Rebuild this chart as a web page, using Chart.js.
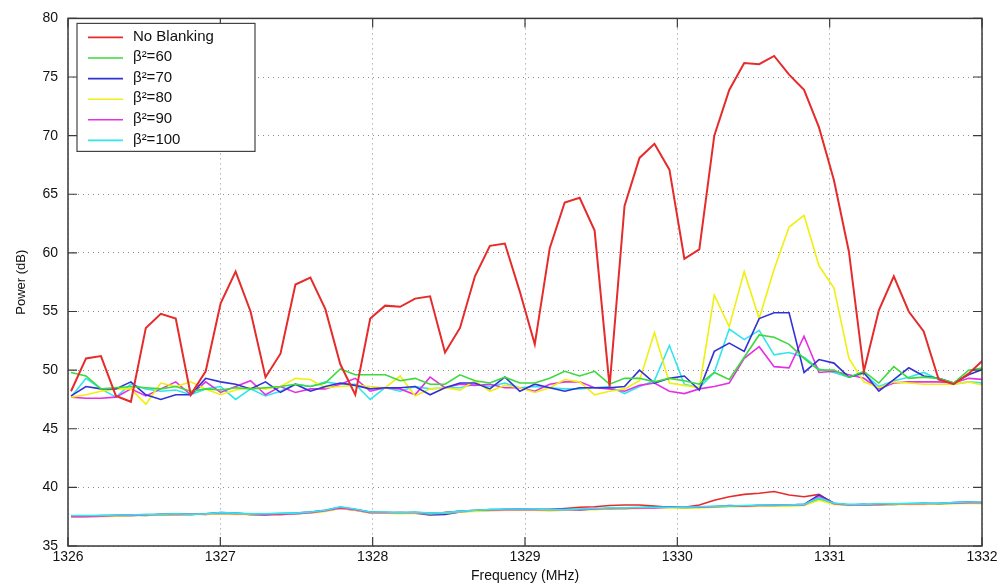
<!DOCTYPE html>
<html>
<head>
<meta charset="utf-8">
<script src="https://cdn.jsdelivr.net/npm/chart.js@4"></script>
<style>
  html, body { margin: 0; padding: 0; background: #fff; }
</style>
</head>
<body>
<canvas id="spectrum" width="1004" height="588"></canvas>
<script>
/* spectrum bins: 62 bins starting just above 1326 MHz */
const freqStart = 1326.02;
const freqStep = 0.0982;

const seriesNames = ['No Blanking', 'β²=60', 'β²=70', 'β²=80', 'β²=90', 'β²=100'];
const seriesColors = ['#e62b2b', '#3cda3c', '#3232d6', '#f0f010', '#e630e6', '#30e6ec'];

const xTicks = [1326, 1327, 1328, 1329, 1330, 1331, 1332];
const yTicks = [35, 40, 45, 50, 55, 60, 65, 70, 75, 80];

/* upper curves (signal band) */
const noBlanking = [48.2, 51.0, 51.2, 47.8, 47.3, 53.6, 54.8, 54.4, 47.9, 49.9,
  55.7, 58.4, 55.0, 49.4, 51.4, 57.3, 57.9, 55.2, 50.5, 47.9,
  54.4, 55.5, 55.4, 56.1, 56.3, 51.5, 53.6, 58.0, 60.6, 60.8,
  56.7, 52.2, 60.4, 64.3, 64.7, 61.9, 48.6, 64.0, 68.1, 69.3,
  67.1, 59.5, 60.3, 70.0, 73.9, 76.2, 76.1, 76.8, 75.2, 73.9,
  70.7, 66.2, 60.1, 49.9, 55.1, 58.0, 55.0, 53.3, 49.2, 48.8,
  49.7, 50.9];
const beta60 = [49.8, 49.5, 48.4, 48.5, 48.6, 48.5, 48.4, 48.6, 48.2, 48.4,
  48.3, 48.5, 48.4, 48.5, 48.6, 48.8, 48.6, 48.9, 50.1, 49.6,
  49.6, 49.6, 49.1, 49.3, 48.8, 48.8, 49.6, 49.1, 48.9, 49.4,
  48.9, 48.9, 49.3, 49.9, 49.5, 49.9, 48.8, 49.3, 49.3, 49.0,
  49.3, 49.1, 48.8, 49.8, 49.2, 51.1, 53.0, 52.8, 52.2, 51.0,
  50.0, 50.0, 49.4, 49.9, 48.9, 50.3, 49.3, 49.4, 49.3, 48.9,
  50.0, 50.2];
const beta70 = [47.8, 48.6, 48.4, 48.4, 49.0, 47.9, 47.5, 47.9, 47.9, 49.3,
  49.0, 48.8, 48.4, 49.0, 48.1, 48.8, 48.2, 48.6, 48.9, 48.7,
  48.4, 48.5, 48.5, 48.6, 47.9, 48.5, 48.9, 48.9, 48.4, 49.4,
  48.2, 48.8, 48.5, 48.2, 48.5, 48.5, 48.5, 48.6, 50.0, 48.9,
  49.3, 49.5, 48.3, 51.6, 52.3, 51.6, 54.4, 54.9, 54.9, 49.8,
  50.9, 50.6, 49.4, 49.8, 48.2, 49.2, 50.2, 49.5, 49.3, 48.9,
  49.6, 50.1];
const beta80 = [47.7, 47.9, 48.2, 48.4, 48.4, 47.1, 48.9, 48.6, 49.0, 48.4,
  47.9, 48.3, 48.5, 48.4, 48.6, 49.3, 49.2, 48.5, 48.6, 48.7,
  48.6, 48.5, 49.5, 47.8, 48.4, 48.5, 48.3, 49.1, 48.2, 48.7,
  48.5, 48.1, 48.5, 49.2, 49.0, 47.9, 48.2, 48.4, 49.1, 53.2,
  48.9, 48.7, 48.5, 56.4, 53.7, 58.4, 54.4, 58.6, 62.2, 63.2,
  58.9, 57.0, 51.0, 49.0, 48.5, 49.0, 48.9, 48.8, 48.8, 48.8,
  49.0, 48.7];
const beta90 = [47.7, 47.6, 47.6, 47.7, 48.4, 47.8, 48.4, 49.0, 47.9, 49.0,
  48.1, 48.6, 49.1, 47.9, 48.6, 48.1, 48.4, 48.4, 48.8, 49.3,
  48.2, 48.5, 48.4, 47.9, 49.4, 48.5, 48.8, 48.7, 48.8, 48.5,
  48.5, 48.2, 48.8, 49.0, 49.0, 48.5, 48.4, 48.2, 48.7, 48.9,
  48.2, 48.0, 48.4, 48.6, 48.9, 51.0, 52.0, 50.3, 50.2, 52.9,
  49.8, 49.9, 49.6, 49.3, 48.4, 48.9, 49.0, 49.0, 49.0, 48.9,
  49.3, 49.2];
const beta100 = [47.7, 49.3, 48.4, 47.7, 48.8, 48.4, 48.2, 48.3, 47.9, 48.4,
  48.6, 47.5, 48.4, 47.8, 48.2, 48.8, 48.6, 49.0, 48.8, 48.8,
  47.5, 48.5, 48.2, 48.6, 48.4, 48.5, 48.5, 48.8, 48.6, 48.9,
  48.5, 48.6, 48.5, 48.4, 48.4, 48.5, 48.6, 48.0, 48.6, 49.1,
  52.1, 48.8, 48.5, 49.8, 53.5, 52.6, 53.4, 51.3, 51.5, 51.1,
  50.1, 49.8, 49.4, 49.7, 48.6, 49.1, 49.4, 49.8, 49.2, 48.8,
  49.0, 48.9];

/* lower curves (noise floor) */
const floorNoBlanking = [37.5, 37.55, 37.55, 37.6, 37.6, 37.65, 37.65, 37.7, 37.7, 37.75,
  37.8, 37.75, 37.7, 37.7, 37.7, 37.75, 37.85, 38.0, 38.2, 38.05,
  37.85, 37.85, 37.8, 37.85, 37.75, 37.85, 37.95, 38.0, 38.05, 38.1,
  38.1, 38.1, 38.1, 38.2, 38.3, 38.35, 38.45, 38.5, 38.5, 38.4,
  38.3, 38.3, 38.5, 38.9, 39.2, 39.4, 39.5, 39.65, 39.35, 39.2,
  39.4, 38.6, 38.5, 38.5, 38.55, 38.55, 38.6, 38.6, 38.6, 38.65,
  38.7, 38.65];
const floor60 = [37.5, 37.55, 37.55, 37.6, 37.6, 37.65, 37.65, 37.7, 37.7, 37.75,
  37.8, 37.75, 37.7, 37.7, 37.7, 37.75, 37.85, 38.0, 38.25, 38.1,
  37.85, 37.85, 37.8, 37.85, 37.75, 37.85, 37.95, 38.0, 38.05, 38.1,
  38.1, 38.1, 38.05, 38.1, 38.1, 38.15, 38.2, 38.2, 38.25, 38.3,
  38.3, 38.25, 38.3, 38.35, 38.4, 38.4, 38.45, 38.45, 38.45, 38.5,
  39.0, 38.6, 38.5, 38.5, 38.55, 38.55, 38.6, 38.6, 38.6, 38.65,
  38.7, 38.65];
const floor70 = [37.55, 37.55, 37.6, 37.6, 37.65, 37.6, 37.7, 37.7, 37.75, 37.7,
  37.85, 37.8, 37.7, 37.65, 37.75, 37.8, 37.9, 38.05, 38.3, 38.1,
  37.9, 37.8, 37.85, 37.8, 37.65, 37.7, 37.9, 38.0, 38.1, 38.1,
  38.15, 38.1, 38.1, 38.15, 38.05, 38.2, 38.15, 38.25, 38.25, 38.3,
  38.35, 38.25, 38.35, 38.35, 38.45, 38.4, 38.45, 38.5, 38.5, 38.55,
  39.35, 38.65, 38.5, 38.55, 38.5, 38.6, 38.6, 38.65, 38.6, 38.7,
  38.75, 38.7];
const floor80 = [37.45, 37.5, 37.5, 37.55, 37.6, 37.6, 37.65, 37.65, 37.7, 37.7,
  37.75, 37.7, 37.7, 37.7, 37.65, 37.75, 37.8, 37.95, 38.2, 38.05,
  37.8, 37.8, 37.75, 37.8, 37.75, 37.8, 37.9, 37.95, 38.0, 38.05,
  38.05, 38.05, 38.0, 38.05, 38.1, 38.1, 38.15, 38.15, 38.2, 38.25,
  38.25, 38.25, 38.25, 38.3, 38.35, 38.35, 38.4, 38.4, 38.4, 38.45,
  38.9, 38.55, 38.45, 38.5, 38.5, 38.55, 38.55, 38.55, 38.6, 38.6,
  38.65, 38.6];
const floor90 = [37.5, 37.5, 37.55, 37.6, 37.6, 37.65, 37.7, 37.7, 37.7, 37.75,
  37.8, 37.75, 37.75, 37.7, 37.7, 37.75, 37.85, 38.0, 38.25, 38.1,
  37.85, 37.85, 37.85, 37.85, 37.8, 37.85, 37.95, 38.05, 38.05, 38.1,
  38.1, 38.1, 38.1, 38.1, 38.1, 38.15, 38.2, 38.2, 38.25, 38.25,
  38.3, 38.3, 38.3, 38.35, 38.4, 38.4, 38.45, 38.45, 38.5, 38.5,
  39.2, 38.6, 38.5, 38.5, 38.55, 38.6, 38.6, 38.6, 38.65, 38.65,
  38.7, 38.7];
const floor100 = [37.6, 37.6, 37.6, 37.65, 37.65, 37.7, 37.7, 37.75, 37.7, 37.75,
  37.85, 37.8, 37.75, 37.75, 37.8, 37.8, 37.9, 38.05, 38.35, 38.15,
  37.9, 37.9, 37.85, 37.9, 37.8, 37.85, 37.95, 38.05, 38.1, 38.15,
  38.15, 38.15, 38.1, 38.1, 38.15, 38.2, 38.25, 38.25, 38.3, 38.3,
  38.3, 38.3, 38.35, 38.4, 38.4, 38.45, 38.5, 38.5, 38.5, 38.55,
  39.1, 38.65, 38.55, 38.55, 38.6, 38.6, 38.65, 38.65, 38.65, 38.7,
  38.75, 38.75];

const upper = [noBlanking, beta60, beta70, beta80, beta90, beta100];
const lower = [floorNoBlanking, floor60, floor70, floor80, floor90, floor100];

function toPoints(values) {
  return values.map((v, i) => ({ x: freqStart + i * freqStep, y: v }));
}

Chart.defaults.font.family = '"Liberation Sans", Arial, sans-serif';
Chart.defaults.color = '#111';

/* datasets: red drawn on top in the upper band, cyan on top in the floor */
const datasets = [];
upper.forEach((vals, k) => {
  datasets.push({
    label: seriesNames[k],
    data: toPoints(vals),
    borderColor: seriesColors[k],
    borderWidth: k === 0 ? 2 : 1.6,
    order: k,
    showInKey: true
  });
});
lower.forEach((vals, k) => {
  datasets.push({
    label: seriesNames[k] + ' floor',
    data: toPoints(vals),
    borderColor: seriesColors[k],
    borderWidth: 1.6,
    order: 20 - k,
    showInKey: false
  });
});

/* matlab style frame, inward ticks and the boxed legend */
const framePlugin = {
  id: 'frame',
  afterDraw(chart) {
    const { ctx, chartArea: a, scales } = chart;
    ctx.save();
    ctx.strokeStyle = '#3a3a3a';
    ctx.lineWidth = 1.5;
    ctx.strokeRect(a.left, a.top, a.right - a.left, a.bottom - a.top);

    ctx.lineWidth = 1.2;
    ctx.beginPath();
    xTicks.forEach(v => {
      const px = scales.x.getPixelForValue(v);
      ctx.moveTo(px, a.bottom); ctx.lineTo(px, a.bottom - 9);
      ctx.moveTo(px, a.top); ctx.lineTo(px, a.top + 9);
    });
    yTicks.forEach(v => {
      const py = scales.y.getPixelForValue(v);
      ctx.moveTo(a.left, py); ctx.lineTo(a.left + 9, py);
      ctx.moveTo(a.right, py); ctx.lineTo(a.right - 9, py);
    });
    ctx.stroke();

    /* legend box */
    const bx = a.left + 9, by = a.top + 5, bw = 178, bh = 128;
    ctx.fillStyle = '#fff';
    ctx.fillRect(bx, by, bw, bh);
    ctx.strokeStyle = '#444';
    ctx.lineWidth = 1.2;
    ctx.strokeRect(bx, by, bw, bh);
    ctx.font = '15px "Liberation Sans", Arial, sans-serif';
    ctx.textBaseline = 'middle';
    ctx.textAlign = 'left';
    chart.data.datasets.filter(d => d.showInKey).forEach((d, k) => {
      const rowY = by + 14 + k * 20.6;
      ctx.strokeStyle = d.borderColor;
      ctx.lineWidth = 1.6;
      ctx.beginPath();
      ctx.moveTo(bx + 11, rowY); ctx.lineTo(bx + 46, rowY);
      ctx.stroke();
      ctx.fillStyle = '#111';
      ctx.fillText(d.label, bx + 56, rowY - 1);
    });
    ctx.restore();
  }
};

const ctx = document.getElementById('spectrum').getContext('2d');
new Chart(ctx, {
  type: 'line',
  data: { datasets: datasets },
  options: {
    responsive: false,
    animation: false,
    elements: {
      point: { radius: 0 },
      line: { tension: 0, fill: false }
    },
    layout: { padding: { left: 0, right: 22, top: 15, bottom: 0 } },
    plugins: {
      legend: { display: false },
      tooltip: { enabled: false },
      title: { display: false }
    },
    scales: {
      x: {
        type: 'linear',
        min: 1326,
        max: 1332,
        afterBuildTicks: s => { s.ticks = xTicks.map(v => ({ value: v })); },
        afterFit: s => { s.height = 42; },
        ticks: { padding: 3, font: { size: 14 }, color: '#111', maxRotation: 0, callback: v => String(v) },
        grid: { color: '#8c8c8c', lineWidth: 1, drawTicks: false },
        border: { display: false, dash: [1, 4] },
        title: { display: true, text: 'Frequency (MHz)', font: { size: 14 }, padding: { top: 0, bottom: 3 }, color: '#111' }
      },
      y: {
        min: 35,
        max: 80,
        afterBuildTicks: s => { s.ticks = yTicks.map(v => ({ value: v })); },
        afterFit: s => { s.width = 68; },
        ticks: { padding: 10, font: { size: 14 }, color: '#111', callback: v => String(v) },
        grid: { color: '#8c8c8c', lineWidth: 1, drawTicks: false },
        border: { display: false, dash: [1, 4] },
        title: { display: true, text: 'Power (dB)', font: { size: 13 }, padding: { top: 14, bottom: 0 }, color: '#111' }
      }
    }
  },
  plugins: [framePlugin]
});
</script>
</body>
</html>
